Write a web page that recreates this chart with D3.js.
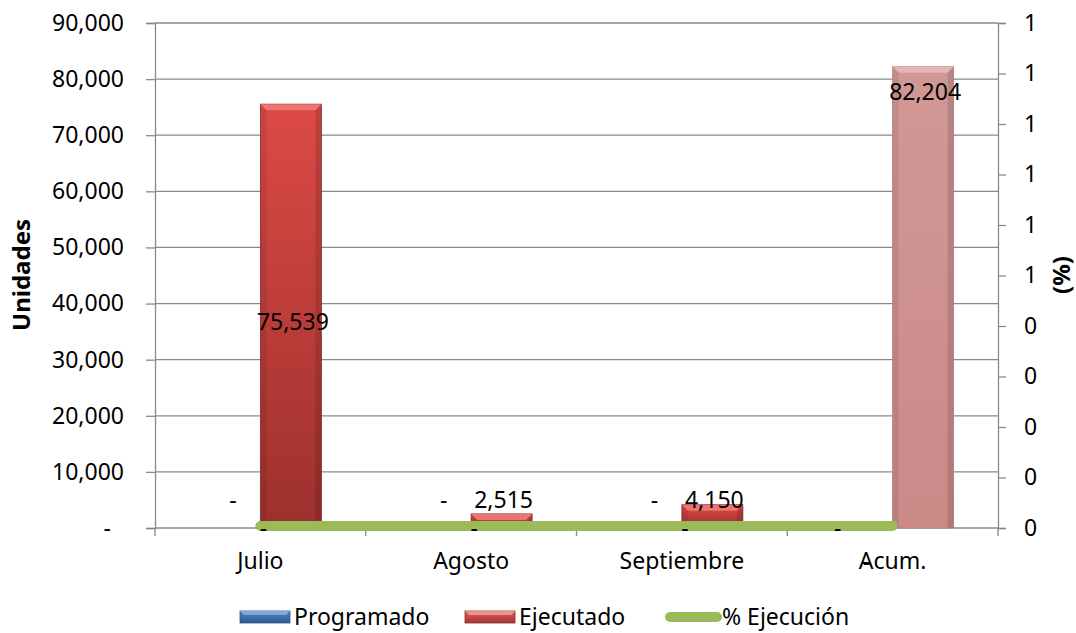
<!DOCTYPE html>
<html>
<head>
<meta charset="utf-8">
<script src="https://cdn.jsdelivr.net/npm/d3@7"></script>
<style>
  body { margin: 0; background: #fff; }
  text { font-family: "Noto Sans", "Open Sans", sans-serif; fill: #000; }
</style>
</head>
<body>
<div id="chart"></div>
<script>
var WIDTH = 1076, HEIGHT = 633;

var categories = ["Julio", "Agosto", "Septiembre", "Acum."];
var programado = [0, 0, 0, 0];
var ejecutado = [75539, 2515, 4150, 82204];
var ejecucion = [0, 0, 0, 0];
var leftTicks = [0, 10000, 20000, 30000, 40000, 50000, 60000, 70000, 80000, 90000];
var rightTicks = [0, 0.1, 0.2, 0.3, 0.4, 0.5, 0.6, 0.7, 0.8, 0.9, 1];
var legendItems = ["Programado", "Ejecutado", "% Ejecución"];

var plot = {left: 155, right: 998, top: 23, bottom: 528};
var barW = 61;
var fs = 23;

var svg = d3.select("#chart").append("svg")
  .attr("width", WIDTH)
  .attr("height", HEIGHT);

var defs = svg.append("defs");
function grad(id, c1, c2) {
  var g = defs.append("linearGradient").attr("id", id)
    .attr("x1", 0).attr("y1", 0).attr("x2", 0).attr("y2", 1);
  g.append("stop").attr("offset", "0%").attr("stop-color", c1);
  g.append("stop").attr("offset", "100%").attr("stop-color", c2);
}
grad("gRed", "#dc4a46", "#9c302d");
grad("gAcum", "#d29896", "#c98a88");
grad("gBlue", "#4f86c6", "#2d5a8e");
grad("gRedLeg", "#e0605c", "#a33632");

var x = d3.scaleBand().domain(categories).range([plot.left, plot.right]);
var inner = d3.scaleBand().domain(["p", "e"]).range([0, barW * 2]);
var y = d3.scaleLinear().domain([0, 90000]).range([plot.bottom, plot.top]);
var y2 = d3.scaleLinear().domain([0, 1]).range([plot.bottom, plot.top]);

function cx(i) { return x(categories[i]) + x.bandwidth() / 2; }
function barX(i, s) { return cx(i) - barW + inner(s); }

// gridlines
svg.append("g")
  .selectAll("line").data(leftTicks.slice(1)).join("line")
  .attr("x1", plot.left).attr("x2", plot.right)
  .attr("y1", function(d) { return y(d); }).attr("y2", function(d) { return y(d); })
  .attr("stroke", "#8a8a8a").attr("stroke-width", 1.3);

// left axis
var fmt = d3.format(",");
var gl = svg.append("g")
  .attr("transform", "translate(" + plot.left + ",0)")
  .call(d3.axisLeft(y).tickValues(leftTicks).tickSize(9).tickPadding(22)
    .tickFormat(function(d) { return d === 0 ? "-" : fmt(d); }));
gl.selectAll(".tick text").filter(function(d) { return d === 0; }).attr("dx", -13);

// right axis
var gr = svg.append("g")
  .attr("transform", "translate(" + plot.right + ",0)")
  .call(d3.axisRight(y2).tickValues(rightTicks).tickSize(8).tickPadding(18)
    .tickFormat(function(d) { return Math.round(d); }));

// bottom axis
var gb = svg.append("g")
  .attr("transform", "translate(0," + plot.bottom + ")")
  .call(d3.axisBottom(x).tickSize(0).tickPadding(25));
gb.selectAll(".tick line").remove();
gb.append("g").selectAll("line").data(categories.concat(["end"])).join("line")
  .attr("x1", function(d, i) { return plot.left + i * x.bandwidth(); })
  .attr("x2", function(d, i) { return plot.left + i * x.bandwidth(); })
  .attr("y1", 0).attr("y2", 8)
  .attr("stroke", "#8a8a8a").attr("stroke-width", 1.3);

[gl, gr, gb].forEach(function(g) {
  g.selectAll(".domain").attr("stroke", "#8a8a8a").attr("stroke-width", 1.3);
  g.selectAll(".tick line").attr("stroke", "#8a8a8a").attr("stroke-width", 1.3);
  g.selectAll("text").attr("font-size", fs).attr("font-family", "Noto Sans");
});
gb.select(".domain").attr("d", "M" + plot.left + ",0H" + plot.right);

// bars (Ejecutado)
var bars = svg.append("g");
ejecutado.forEach(function(v, i) {
  var x0 = barX(i, "e"), top = y(v), h = plot.bottom - top;
  var acum = categories[i] === "Acum.";
  bars.append("rect")
    .attr("x", x0).attr("y", top).attr("width", barW).attr("height", h)
    .attr("fill", acum ? "url(#gAcum)" : "url(#gRed)")
    .attr("stroke", acum ? "#b98280" : "#8e2c29").attr("stroke-width", 0.8);
  var b = Math.min(6, h / 2);
  bars.append("polygon")
    .attr("points", [[x0, top], [x0 + barW, top], [x0 + barW - b, top + b], [x0 + b, top + b]].join(" "))
    .attr("fill", acum ? "#e6b8b6" : "#f07a76").attr("opacity", 0.9);
  bars.append("polygon")
    .attr("points", [[x0, top], [x0 + b, top + b], [x0 + b, plot.bottom], [x0, plot.bottom]].join(" "))
    .attr("fill", "#000").attr("opacity", 0.08);
  bars.append("polygon")
    .attr("points", [[x0 + barW, top], [x0 + barW - b, top + b], [x0 + barW - b, plot.bottom], [x0 + barW, plot.bottom]].join(" "))
    .attr("fill", "#000").attr("opacity", 0.12);
});

// % Ejecucion line
var line = d3.line()
  .x(function(d, i) { return cx(i); })
  .y(function(d) { return y2(d) - 2; });
svg.append("path")
  .attr("d", line(ejecucion))
  .attr("fill", "none")
  .attr("stroke", "#9bbb59")
  .attr("stroke-width", 10)
  .attr("stroke-linecap", "round")
  .attr("stroke-linejoin", "round");

// data labels
var labels = svg.append("g").attr("font-size", fs);
var smallLabelY = plot.bottom - 20;
ejecutado.forEach(function(v, i) {
  var bx = barX(i, "e") + barW / 2 + 2;
  var ly;
  if (i === 0) ly = (y(v) + plot.bottom) / 2 + 14;
  else if (categories[i] === "Acum.") ly = y(v) + 33;
  else ly = smallLabelY;
  labels.append("text").attr("x", bx).attr("y", ly)
    .attr("text-anchor", "middle").text(fmt(v));
});
programado.forEach(function(v, i) {
  if (categories[i] === "Acum.") return;
  labels.append("text")
    .attr("x", barX(i, "p") + barW / 2 + 3).attr("y", smallLabelY)
    .attr("text-anchor", "middle").text(v === 0 ? "-" : fmt(v));
});
ejecucion.forEach(function(v, i) {
  var acum = categories[i] === "Acum.";
  labels.append("text")
    .attr("x", acum ? cx(i) - 55 : cx(i) + 3).attr("y", y2(v) + 8)
    .attr("text-anchor", "middle").text("-");
});
labels.append("text")
  .attr("x", cx(3) - 26).attr("y", y(0) + 42)
  .attr("text-anchor", "middle").text("-");

// axis titles
svg.append("text")
  .attr("transform", "translate(30,275) rotate(-90)")
  .attr("text-anchor", "middle").attr("font-size", 24).attr("font-weight", "bold")
  .text("Unidades");
svg.append("text")
  .attr("transform", "translate(1070,275) rotate(-90)")
  .attr("text-anchor", "middle").attr("font-size", 24).attr("font-weight", "bold")
  .text("(%)");

// legend
var legend = svg.append("g").attr("transform", "translate(0,617)");
var legX = [240, 465, 665];
legendItems.forEach(function(name, i) {
  var g = legend.append("g").attr("transform", "translate(" + legX[i] + ",0)");
  if (i < 2) {
    g.append("rect").attr("x", 0).attr("y", -6).attr("width", 50).attr("height", 12)
      .attr("fill", i === 0 ? "url(#gBlue)" : "url(#gRedLeg)")
      .attr("stroke", i === 0 ? "#2b5585" : "#8e2c29").attr("stroke-width", 0.8);
    g.append("polygon")
      .attr("points", "0,-6 50,-6 46,-2 4,-2")
      .attr("fill", i === 0 ? "#8fb4e3" : "#f4a09c").attr("opacity", 0.8);
  } else {
    g.append("line").attr("x1", 5).attr("x2", 52).attr("y1", 0).attr("y2", 0)
      .attr("stroke", "#9bbb59").attr("stroke-width", 10).attr("stroke-linecap", "round");
  }
  g.append("text").attr("x", i < 2 ? 54 : 57).attr("y", 8)
    .attr("font-size", fs).text(name);
});
</script>
</body>
</html>
